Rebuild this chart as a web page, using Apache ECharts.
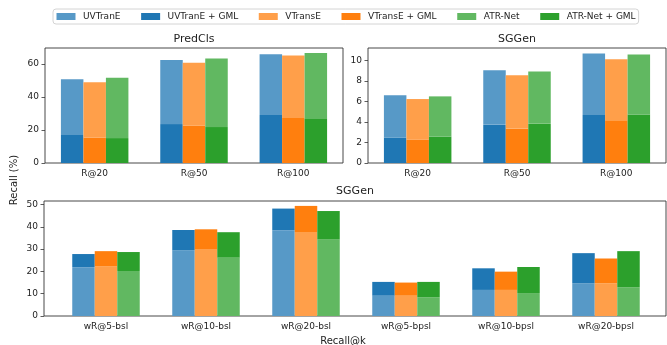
<!DOCTYPE html>
<html><head><meta charset="utf-8">
<script src="https://cdn.jsdelivr.net/npm/echarts@6/dist/echarts.min.js"></script>
<style>html,body{margin:0;padding:0;background:#fff}#c{width:667px;height:345px}</style>
</head><body><div id="c"></div>
<script>
// ---- data ----
const topCats = ['R@20', 'R@50', 'R@100'];
const bottomCats = ['wR@5-bsl', 'wR@10-bsl', 'wR@20-bsl', 'wR@5-bpsl', 'wR@10-bpsl', 'wR@20-bpsl'];
const names = ['UVTranE', 'UVTranE + GML', 'VTransE', 'VTransE + GML', 'ATR-Net', 'ATR-Net + GML'];

// PredCls
const predUV = [50.7, 62.4, 65.9];
const predUVGML = [17.0, 23.6, 29.1];
const predVT = [48.9, 60.8, 65.1];
const predVTGML = [15.3, 22.6, 27.3];
const predATR = [51.7, 63.4, 66.7];
const predATRGML = [15.1, 21.8, 26.7];

// SGGen (top)
const sgUV = [6.6, 9.06, 10.68];
const sgUVGML = [2.49, 3.72, 4.69];
const sgVT = [6.24, 8.57, 10.13];
const sgVTGML = [2.26, 3.33, 4.17];
const sgATR = [6.5, 8.93, 10.58];
const sgATRGML = [2.58, 3.82, 4.72];

// SGGen (bottom, weighted recall)
const wUV = [21.9, 29.4, 38.5, 9.1, 11.7, 14.7];
const wUVGML = [27.8, 38.6, 48.2, 15.3, 21.4, 28.2];
const wVT = [22.3, 29.8, 37.7, 9.1, 11.7, 14.7];
const wVTGML = [29.1, 38.9, 49.4, 15.0, 19.9, 25.8];
const wATR = [20.2, 26.2, 34.4, 8.4, 10.3, 12.9];
const wATRGML = [28.7, 37.6, 47.1, 15.3, 22.0, 29.1];

const predTicks = [0, 20, 40, 60];
const sgTicks = [0, 2, 4, 6, 8, 10];
const wTicks = [0, 10, 20, 30, 40, 50];

// ---- styles ----
const light = ['#5799c7', '#ff9f4a', '#61b861'];
const dark = ['#1f77b4', '#ff7f0e', '#2ca02c'];
const FONT = 'DejaVu Sans';
const TXT = '#222';
const BW = 22.5;

function sub(a, b) { return a.map((v, i) => +(v - b[i]).toFixed(4)); }

// top: dark (GML) bar from 0, light bar above it up to base value
function topSeries(gi, base, gml) {
  const out = [];
  for (let k = 0; k < 3; k++) {
    const st = 's' + gi + '_' + k;
    out.push({ type: 'bar', name: names[2 * k + 1], xAxisIndex: gi, yAxisIndex: gi, stack: st,
      barWidth: BW, barGap: '0%', itemStyle: { color: dark[k] }, data: gml[k], silent: true });
    out.push({ type: 'bar', name: names[2 * k], xAxisIndex: gi, yAxisIndex: gi, stack: st,
      barWidth: BW, barGap: '0%', itemStyle: { color: light[k] }, data: sub(base[k], gml[k]), silent: true });
  }
  return out;
}
// bottom: light (base) bar from 0, dark bar above it up to GML value
function bottomSeries(gi, base, gml) {
  const out = [];
  for (let k = 0; k < 3; k++) {
    const st = 's' + gi + '_' + k;
    out.push({ type: 'bar', name: names[2 * k], xAxisIndex: gi, yAxisIndex: gi, stack: st,
      barWidth: BW, barGap: '0%', itemStyle: { color: light[k] }, data: base[k], silent: true });
    out.push({ type: 'bar', name: names[2 * k + 1], xAxisIndex: gi, yAxisIndex: gi, stack: st,
      barWidth: BW, barGap: '0%', itemStyle: { color: dark[k] }, data: sub(gml[k], base[k]), silent: true });
  }
  return out;
}

const series = [].concat(
  topSeries(0, [predUV, predVT, predATR], [predUVGML, predVTGML, predATRGML]),
  topSeries(1, [sgUV, sgVT, sgATR], [sgUVGML, sgVTGML, sgATRGML]),
  bottomSeries(3, [wUV, wVT, wATR], [wUVGML, wVTGML, wATRGML])
);

function catAxis(gi, cats, margin) {
  return { type: 'category', gridIndex: gi, data: cats,
    axisLine: { show: false },
    axisTick: { alignWithLabel: true, length: 3.5, lineStyle: { color: '#333', width: 0.8 } },
    axisLabel: { fontFamily: FONT, fontSize: 9, color: TXT, margin: margin } };
}
function valAxis(gi, max, ticks, show) {
  return { type: 'value', gridIndex: gi, min: 0, max: max, show: show,
    splitLine: { show: false }, axisLine: { show: false },
    axisTick: { show: true, length: 3.5, customValues: ticks, lineStyle: { color: '#333', width: 0.8 } },
    axisLabel: { fontFamily: FONT, fontSize: 9, color: TXT, margin: 6, customValues: ticks } };
}

const gridStyle = { show: true, borderColor: '#333', borderWidth: 0.9, backgroundColor: 'transparent' };

const option = {
  animation: false,
  backgroundColor: '#fff',
  legend: {
    data: names, left: 53, top: 9, orient: 'horizontal',
    itemWidth: 19, itemHeight: 7, itemGap: 20.6, icon: 'rect',
    padding: [3, 3, 3, 3.5],
    borderColor: '#d4d4d4', borderWidth: 1, borderRadius: 3,
    textStyle: { fontFamily: FONT, fontSize: 9, color: TXT, padding: [0, 0, 0, 2.5] },
    selectedMode: false
  },
  grid: [
    Object.assign({ left: 45, top: 48, width: 298, height: 115 }, gridStyle),
    Object.assign({ left: 368, top: 48, width: 298, height: 115 }, gridStyle),
    Object.assign({ left: 44, top: 201, width: 622, height: 115 }, gridStyle),
    { left: 56, top: 201, width: 600, height: 115, show: false }
  ],
  xAxis: [
    catAxis(0, topCats, 6),
    catAxis(1, topCats, 6),
    { type: 'value', gridIndex: 2, show: false },
    catAxis(3, bottomCats, 6)
  ],
  yAxis: [
    valAxis(0, 69.7, predTicks, true),
    valAxis(1, 11.22, sgTicks, true),
    valAxis(2, 51.6, wTicks, true),
    valAxis(3, 51.6, wTicks, false)
  ],
  series: series,
  graphic: [
    { type: 'text', x: 194, y: 39.5, style: { text: 'PredCls', textAlign: 'center', textVerticalAlign: 'middle', font: '11px "DejaVu Sans"', fill: TXT } },
    { type: 'text', x: 517, y: 39.5, style: { text: 'SGGen', textAlign: 'center', textVerticalAlign: 'middle', font: '11px "DejaVu Sans"', fill: TXT } },
    { type: 'text', x: 355, y: 191, style: { text: 'SGGen', textAlign: 'center', textVerticalAlign: 'middle', font: '11px "DejaVu Sans"', fill: TXT } },
    { type: 'text', x: 14, y: 180, rotation: Math.PI / 2, style: { text: 'Recall (%)', textAlign: 'center', textVerticalAlign: 'middle', font: '10px "DejaVu Sans"', fill: TXT } },
    { type: 'text', x: 343, y: 336, style: { text: 'Recall@k', textAlign: 'center', textVerticalAlign: 'top', font: '10px "DejaVu Sans"', fill: TXT } }
  ]
};

const chart = echarts.init(document.getElementById('c'), null, { renderer: 'canvas' });
chart.setOption(option);
</script>
</body></html>
